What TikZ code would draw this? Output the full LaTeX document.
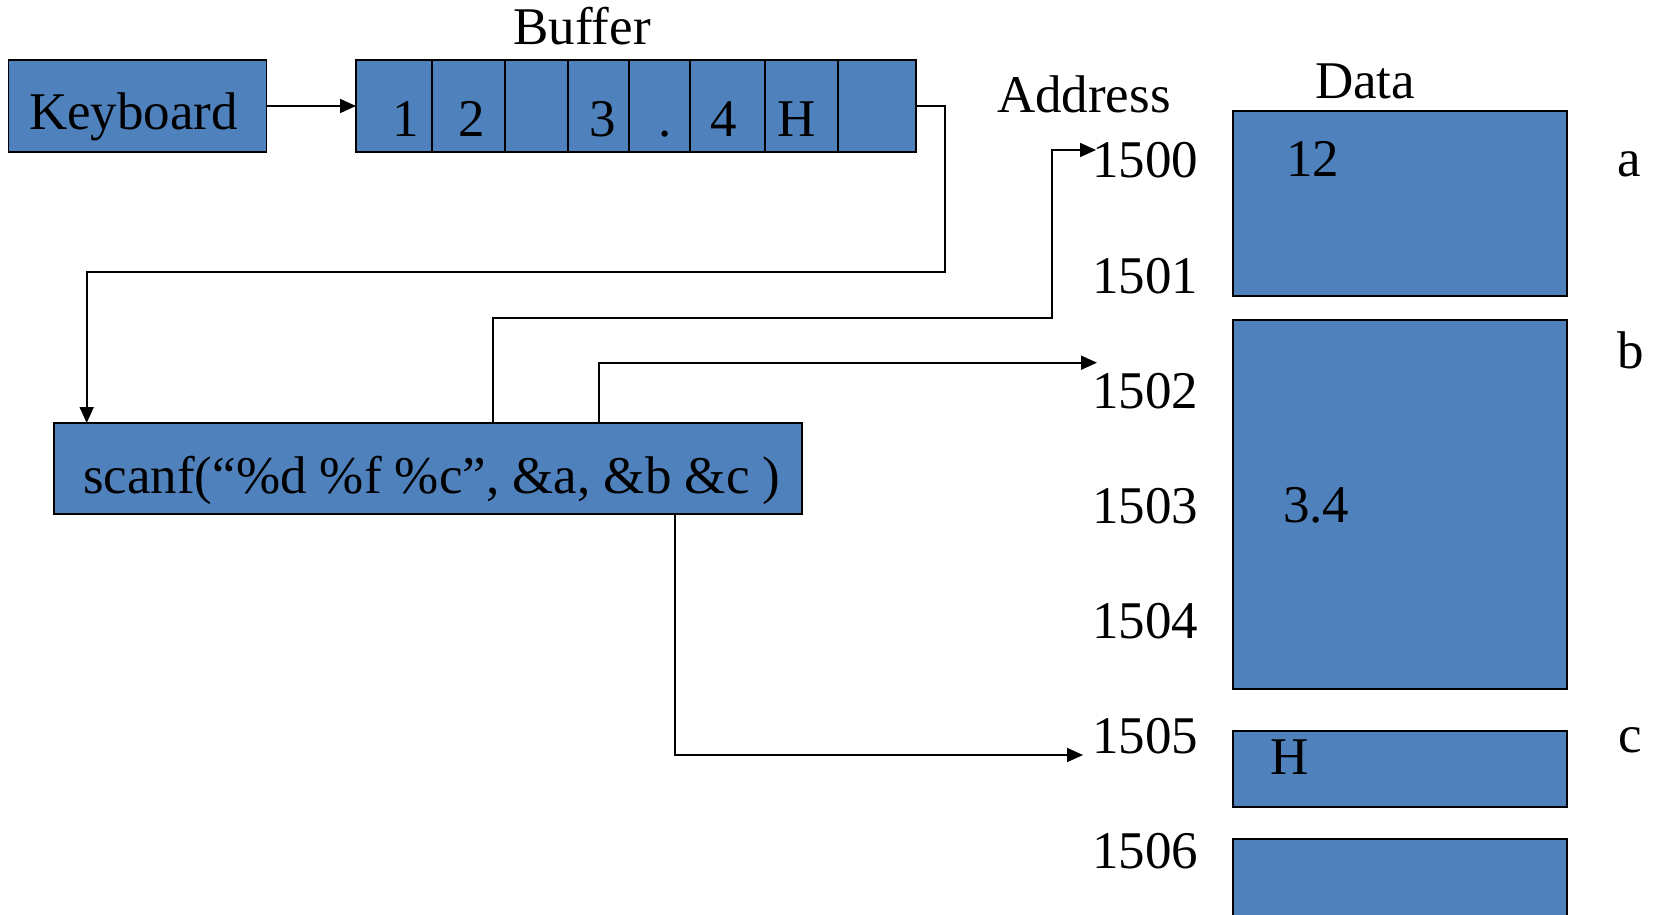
\documentclass[tikz,border=0pt]{standalone}
\usepackage{fontspec}
\setmainfont{Liberation Serif}
\usetikzlibrary{arrows.meta}
\definecolor{boxblue}{HTML}{4F81BD}
\begin{document}
\begin{tikzpicture}[x=1pt,y=-1pt,
  box/.style={draw=black, line width=1.8pt, fill=boxblue, rectangle, inner sep=0pt, outer sep=0pt},
  txt/.style={inner sep=0pt, outer sep=0pt, font=\fontsize{53}{60}\selectfont, anchor=base west},
  ctxt/.style={txt, anchor=base},
  conn/.style={line width=1.8pt, draw=black},
  arr/.style={conn, -{Triangle[length=16pt,width=14pt]}}]
\clip (0,0) rectangle (1657,915);

% keyboard
\node[box, minimum width=258pt, minimum height=92pt] (kb) at (137.5,106) {};
\node[txt] (kbt) at (29,130) {Keyboard};

% buffer cells
\node[ctxt] (buft) at (582,45) {Buffer};
\foreach \n/\c/\w in {1/394/76, 2/468.5/73, 3/536.5/63, 4/598.5/61, 5/659.5/61, 6/727.5/75, 7/801.5/73, 8/877/78}
  \node[box, minimum width=\w pt, minimum height=92pt] (b\n) at (\c,106) {};
\node[ctxt] (v1) at (406,137) {1};
\node[ctxt] (v2) at (472,137) {2};
\node[ctxt] (v4) at (603,137) {3};
\node[ctxt] (v5) at (665,137) {.};
\node[ctxt] (v6) at (724,137) {4};
\node[ctxt] (v7) at (797,137) {H};

% scanf call
\node[box, minimum width=748pt, minimum height=91pt] (sc) at (428,468.5) {};
\node[txt] (sct) at (83,493) {scanf(“\%d \%f \%c”, \&a, \&b \&c )};

% memory
\node[txt] (addr) at (997,113) {Address};
\node[txt] (data) at (1315,99) {Data};
\node[box, minimum width=334pt, minimum height=185pt] (ma) at (1400,203.5) {};
\node[box, minimum width=334pt, minimum height=369pt] (mb) at (1400,504.5) {};
\node[box, minimum width=334pt, minimum height=75.7pt] (mc) at (1400,768.85) {};
\node[box, minimum width=334pt, minimum height=101pt] (md) at (1400,889.5) {};

\node[txt] (a0) at (1092,177.7) {1500};
\node[txt] (a1) at (1092,293) {1501};
\node[txt] (a2) at (1092,408) {1502};
\node[txt] (a3) at (1092,523) {1503};
\node[txt] (a4) at (1092,638) {1504};
\node[txt] (a5) at (1092,753) {1505};
\node[txt] (a6) at (1092,868) {1506};

\node[txt] (da) at (1286,176) {12};
\node[txt] (db) at (1283,522) {3.4};
\node[txt] (dc) at (1270,774) {H};

\node[txt] (la) at (1617,176) {a};
\node[txt] (lb) at (1617,368) {b};
\node[txt] (lc) at (1618,752) {c};

% connectors
\draw[arr] (kb.east) -- (b1.west);
\coordinate (k1) at (945,272);
\draw[arr] (b8.east) -| (k1) -| ([xshift=32.7pt]sc.north west);
\coordinate (t0) at (1096,150);
\draw[arr] ([xshift=439pt]sc.north west) |- (1052,317.7) |- (t0);
\coordinate (t2) at (1097,362.7);
\draw[arr] ([xshift=545pt]sc.north west) |- (t2);
\coordinate (t5) at (1083,755);
\draw[arr] ([xshift=621pt]sc.south west) |- (t5);
\end{tikzpicture}
\end{document}
